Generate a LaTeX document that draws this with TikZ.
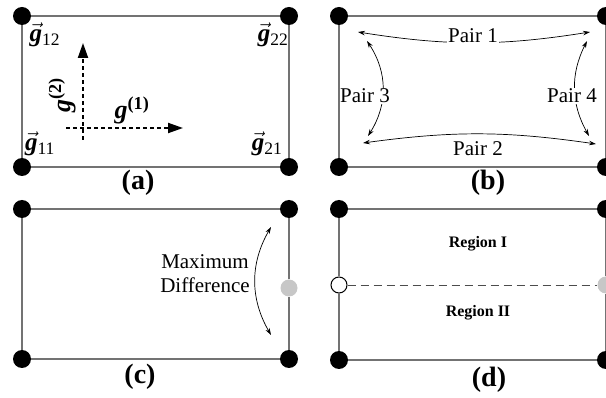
\documentclass[tikz,border=0pt]{standalone}
\usepackage{fontspec}
\setmainfont{Liberation Serif}
\usetikzlibrary{arrows.meta}

\newcommand{\gv}[1]{$\vec{\mbox{\bfseries\itshape g}}$\textsubscript{#1}}
\newcommand{\gax}[1]{\textbf{\textit{g}\textsuperscript{(#1)}}}

\begin{document}
\begin{tikzpicture}[
    x=1pt, y=-1pt,
    frame/.style={draw=black!55, line width=1.3pt},
    dot/.style={circle, fill=black, minimum size=18pt, inner sep=0pt},
    greydot/.style={circle, fill=black!22, minimum size=17pt, inner sep=0pt},
    hollow/.style={circle, draw=black, line width=1pt, fill=white, minimum size=16pt, inner sep=0pt},
    axis/.style={line width=2pt, dash pattern=on 4pt off 3pt, -{Triangle[length=15pt, width=10pt]}},
    twoway/.style={line width=0.7pt, {Stealth[length=7pt, width=4.5pt]}-{Stealth[length=7pt, width=4.5pt]}},
    vlab/.style={font=\fontsize{25}{30}\selectfont},
    axlab/.style={font=\fontsize{26}{30}\selectfont},
    txt/.style={font=\fontsize{21}{24}\selectfont, align=center},
    reg/.style={font=\fontsize{16}{19}\selectfont\bfseries},
    panel/.style={font=\fontsize{28}{32}\selectfont\bfseries}
]
    \useasboundingbox (0,0) rectangle (606,398);

    % (a)
    \node[dot] (a12) at (22,16)  {};
    \node[dot] (a22) at (289,16) {};
    \node[dot] (a11) at (22,167) {};
    \node[dot] (a21) at (289,167){};
    \draw[frame] (a11) -- (a21) -- (a22) -- (a12) -- (a11);
    \node[vlab] (g12) at (45,35)  {\gv{12}};
    \node[vlab] (g22) at (273,35) {\gv{22}};
    \node[vlab] (g11) at (40,144) {\gv{11}};
    \node[vlab] (g21) at (267,144){\gv{21}};
    \coordinate (o1) at (66,128);
    \coordinate (e1) at (183,128);
    \coordinate (o2) at (83,140);
    \coordinate (e2) at (83,43);
    \draw[axis] (o1) -- (e1);
    \draw[axis] (o2) -- (e2);
    \node[axlab] (g1) at (132,110) {\gax{1}};
    \node[axlab, rotate=90] (g2) at (62,95) {\gax{2}};
    \node[panel] (la) at (138,183) {(a)};

    % (b)
    \node[dot] (b12) at (339,16)  {};
    \node[dot] (b22) at (606,16)  {};
    \node[dot] (b11) at (339,167) {};
    \node[dot] (b21) at (606,167) {};
    \draw[frame] (b11) -- (b21) -- (b22) -- (b12) -- (b11);
    \coordinate (p1a) at (358,32);
    \coordinate (p1b) at (590,32);
    \coordinate (p2a) at (363,143);
    \coordinate (p2b) at (596,144);
    \coordinate (p3a) at (367,41);
    \coordinate (p3b) at (368,136);
    \coordinate (p4a) at (587,41);
    \coordinate (p4b) at (589,136);
    \draw[twoway] (p1a) to[bend right=9] (p1b);
    \draw[twoway] (p2a) to[bend left=8] (p2b);
    \draw[twoway] (p3a) to[bend left=33] (p3b);
    \draw[twoway] (p4a) to[bend right=28] (p4b);
    \node[txt, fill=white, inner sep=1pt] (pair1) at (473,36) {Pair 1};
    \node[txt] (pair2) at (478,149) {Pair 2};
    \node[txt, fill=white, inner xsep=0pt, inner ysep=1pt] (pair3) at (365,96) {Pair 3};
    \node[txt, fill=white, inner sep=1pt] (pair4) at (572,96) {Pair 4};
    \node[panel] (lb) at (488,183) {(b)};

    % (c)
    \node[dot] (c12) at (22,209)  {};
    \node[dot] (c22) at (289,209) {};
    \node[dot] (c11) at (22,359)  {};
    \node[dot] (c21) at (289,359) {};
    \node[greydot] (cm) at (289,288) {};
    \draw[frame] (c11) -- (c21) -- (cm) -- (c22) -- (c12) -- (c11);
    \coordinate (m1) at (271,227);
    \coordinate (m2) at (271,335);
    \draw[twoway] (m1) to[bend right=30] (m2);
    \node[txt] (maxdiff) at (205,274) {Maximum\\Difference};
    \node[panel] (lc) at (140,377) {(c)};

    % (d)
    \node[dot] (d12) at (339,209) {};
    \node[dot] (d22) at (606,209) {};
    \node[dot] (d11) at (339,360) {};
    \node[dot] (d21) at (606,360) {};
    \node[hollow] (dl) at (339,285) {};
    \node[greydot] (dr) at (606,285) {};
    \draw[frame] (d11) -- (d21) -- (dr) -- (d22) -- (d12) -- (dl) -- (d11);
    \draw[black!70, line width=0.9pt, dash pattern=on 8pt off 5pt] (dl) -- (dr);
    \node[reg] (r1) at (478,244) {Region I};
    \node[reg] (r2) at (478,313) {Region II};
    \node[panel] (ld) at (489,380) {(d)};
\end{tikzpicture}
\end{document}
